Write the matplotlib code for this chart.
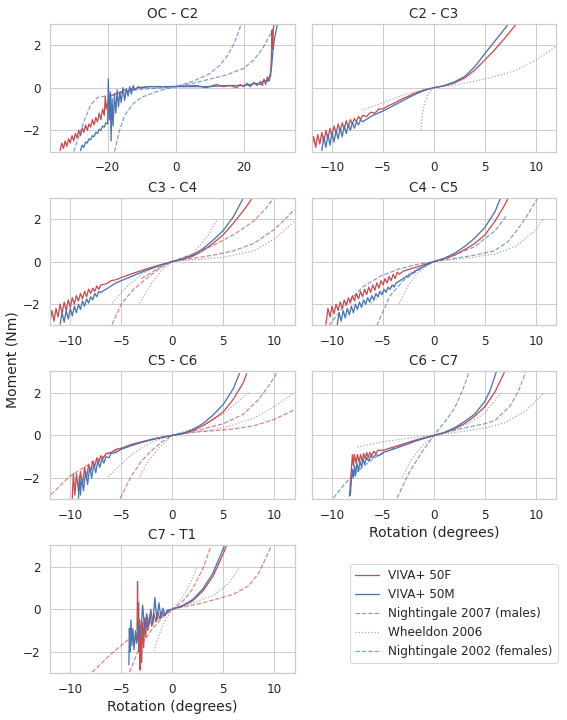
import numpy as np
import matplotlib
matplotlib.use("Agg")
import matplotlib.pyplot as plt
from matplotlib.lines import Line2D
import seaborn as sns

sns.set_theme(style="whitegrid")
plt.rcParams["font.family"] = ["DejaVu Sans"]

RED = "#c44e52"
BLUE = "#4c72b0"
GREY = "#8c8c8c"

titles = ["OC - C2", "C2 - C3", "C3 - C4", "C4 - C5", "C5 - C6", "C6 - C7", "C7 - T1"]
legend_labels = ["VIVA+ 50F", "VIVA+ 50M", "Nightingale 2007 (males)",
                 "Wheeldon 2006", "Nightingale 2002 (females)"]

# ---- OC - C2 ----
oc_f = [(-34, -2.95), (-33.5, -2.6), (-33, -2.85), (-32.5, -2.5), (-32, -2.75), (-31.5, -2.4),
        (-31, -2.6), (-30.5, -2.25), (-30, -2.5), (-29.5, -2.15), (-29, -2.35), (-28.5, -2.0),
        (-28, -2.25), (-27.5, -1.9), (-27, -2.1), (-26.5, -1.75), (-26, -2.0), (-25.5, -1.7),
        (-25, -1.85), (-24.5, -1.5), (-24, -1.75), (-23.5, -1.4), (-23, -1.6), (-22.5, -1.2),
        (-22, -1.5), (-21.5, -1.0), (-21, -1.3), (-20.7, -0.4), (-20.4, -1.0), (-20, -0.7),
        (-19.5, -0.5), (-19, -0.4), (-18, -0.3), (-17, -0.25), (-16, -0.2), (-15, -0.1),
        (-14, -0.15), (-13, -0.05), (-12, -0.1), (-11, 0.05), (-10, -0.02), (-8, 0.05),
        (-5, 0.05), (-2, 0.05), (0, 0.06), (3, 0.08), (6, 0.1), (9, 0.0), (12, 0.15),
        (14, 0.05), (16, 0.1), (18, 0.0), (19, 0.15), (20, 0.05), (21, 0.2), (22, 0.05),
        (23, 0.25), (24, 0.1), (25, 0.3), (25.5, 0.1), (26, 0.4), (26.5, 0.15), (27, 0.5),
        (27.5, 0.3), (28, 0.6), (28.2, 1.5), (28.4, 2.7), (28.6, 1.8), (28.8, 2.8), (29, 3.1)]
oc_m = [(-28, -2.95), (-27.5, -2.7), (-27, -2.8), (-26.5, -2.55), (-26, -2.6), (-25.5, -2.4),
        (-25, -2.45), (-24.5, -2.25), (-24, -2.3), (-23.5, -2.1), (-23, -2.15), (-22.5, -1.95),
        (-22, -2.0), (-21.5, -1.8), (-21, -1.85), (-20.5, -1.65), (-20, -1.7), (-19.8, 0.4),
        (-19.5, -1.5), (-19.2, -0.2), (-19, -2.5), (-18.7, -0.5), (-18.4, -1.8), (-18, -0.3),
        (-17.6, -1.2), (-17.2, -0.1), (-16.8, -0.9), (-16.4, -0.2), (-16, -0.7), (-15.5, 0.0),
        (-15, -0.6), (-14.5, -0.05), (-14, -0.4), (-13.5, 0.05), (-13, -0.3), (-12.5, 0.1),
        (-12, -0.1), (-11, 0.0), (-8, 0.05), (0, 0.05), (10, 0.05), (15, 0.1), (20, 0.1),
        (22, 0.15), (24, 0.2), (25, 0.15), (26, 0.35), (27, 0.3), (27.8, 0.6), (28.2, 0.9),
        (28.6, 1.6), (29, 2.2), (29.5, 2.6), (30, 3.0), (30.2, 3.1)]
oc_n07 = [[(-30, -3.0), (-27, -1.6), (-25, -0.8), (-23, -0.47), (-18, -0.3), (-12, -0.1),
           (-6, -0.03), (0, 0.05), (5, 0.3), (10, 0.65), (13, 1.05), (15, 1.45), (17, 2.0),
           (18.5, 2.6), (19.3, 3.0)],
          [(-18, -3.0), (-16.5, -2.0), (-15, -1.3), (-12.5, -0.75), (-10, -0.45), (-5, -0.15),
           (0, 0.05), (5, 0.2), (10, 0.4), (15, 0.6), (20, 0.9), (23, 1.3), (25.5, 1.8),
           (27.5, 2.4), (29.5, 3.0)]]

# ---- C2 - C3 ----
c23_f = [(-12, -2.9), (-11.8, -2.3), (-11.6, -2.8), (-11.4, -2.2), (-11.2, -2.65), (-11, -2.1),
         (-10.8, -2.55), (-10.6, -2.0), (-10.4, -2.4), (-10.2, -1.9), (-10, -2.3), (-9.8, -1.8),
         (-9.6, -2.15), (-9.4, -1.7), (-9.2, -2.05), (-9, -1.65), (-8.8, -1.95), (-8.6, -1.55),
         (-8.4, -1.85), (-8.2, -1.5), (-8, -1.7), (-7.8, -1.45), (-7.6, -1.6), (-7.4, -1.35),
         (-7.2, -1.5), (-7, -1.3), (-6.6, -1.35), (-6.2, -1.15), (-5.8, -1.2), (-5.4, -1.0),
         (-5, -1.0), (-4.5, -0.85), (-4, -0.75), (-3.5, -0.62), (-3, -0.5), (-2.5, -0.4),
         (-2, -0.28), (-1.5, -0.2), (-1, -0.12), (-0.5, -0.06), (0, 0), (1, 0.08), (2, 0.22),
         (3, 0.45), (4, 0.82), (5, 1.3), (6, 1.8), (7, 2.35), (8.1, 3.0)]
c23_m = [(-11, -2.95), (-10.8, -2.3), (-10.6, -2.8), (-10.4, -2.2), (-10.2, -2.7), (-10, -2.1),
         (-9.8, -2.55), (-9.6, -2.0), (-9.4, -2.4), (-9.2, -1.9), (-9, -2.3), (-8.8, -1.8),
         (-8.6, -2.15), (-8.4, -1.75), (-8.2, -2.0), (-8, -1.65), (-7.8, -1.9), (-7.6, -1.6),
         (-7.4, -1.75), (-7.2, -1.5), (-7, -1.6), (-6.5, -1.45), (-6, -1.3), (-5.5, -1.2),
         (-5, -1.1), (-4.5, -0.97), (-4, -0.85), (-3.5, -0.72), (-3, -0.6), (-2.5, -0.47),
         (-2, -0.35), (-1.5, -0.24), (-1, -0.14), (-0.5, -0.06), (0, 0), (1, 0.1), (2, 0.27),
         (3, 0.52), (4, 0.98), (5, 1.6), (6, 2.2), (7, 2.8), (7.3, 3.0)]
c23_w06 = [[(-7, -1.05), (-5, -0.7), (-3, -0.35), (-1, -0.08), (0, 0), (2, 0.12), (4, 0.3),
            (6, 0.52), (8, 0.8), (10, 1.3), (12, 1.95)],
           [(-1.3, -2.0), (-1.15, -1.3), (-0.9, -0.7), (-0.5, -0.25), (0, 0)]]

# ---- C3 - C4 ----
c34_f = [(-12, -2.85), (-11.8, -2.3), (-11.6, -2.8), (-11.4, -2.2), (-11.2, -2.6), (-11, -2.0),
         (-10.8, -2.45), (-10.6, -1.9), (-10.4, -2.3), (-10.2, -1.8), (-10, -2.15), (-9.8, -1.7),
         (-9.6, -2.0), (-9.4, -1.6), (-9.2, -1.85), (-9, -1.5), (-8.8, -1.75), (-8.6, -1.4),
         (-8.4, -1.65), (-8.2, -1.3), (-8, -1.5), (-7.8, -1.25), (-7.6, -1.4), (-7.4, -1.15),
         (-7.2, -1.3), (-7, -1.1), (-6.5, -1.05), (-6, -0.9), (-5.5, -0.85), (-5, -0.75),
         (-4, -0.58), (-3, -0.42), (-2, -0.27), (-1, -0.13), (0, 0), (1, 0.1), (2, 0.25),
         (3, 0.5), (4, 0.85), (5, 1.25), (6, 1.8), (7, 2.4), (7.9, 3.0)]
c34_m = [(-11, -2.95), (-10.8, -2.4), (-10.6, -2.85), (-10.4, -2.3), (-10.2, -2.7), (-10, -2.2),
         (-9.8, -2.55), (-9.6, -2.1), (-9.4, -2.4), (-9.2, -2.0), (-9, -2.25), (-8.8, -1.85),
         (-8.6, -2.1), (-8.4, -1.75), (-8.2, -1.95), (-8, -1.65), (-7.8, -1.8), (-7.6, -1.5),
         (-7.4, -1.65), (-7.2, -1.4), (-7, -1.45), (-6.5, -1.3), (-6, -1.15), (-5.5, -1.0),
         (-5, -0.9), (-4, -0.7), (-3, -0.5), (-2, -0.32), (-1, -0.15), (0, 0), (1, 0.12),
         (2, 0.3), (3, 0.6), (4, 1.0), (5, 1.45), (6, 2.1), (7, 3.0)]
c34_n02 = [[(-5.9, -2.95), (-5, -2.0), (-3.8, -1.3), (-2.2, -0.67), (-1, -0.25), (0, 0),
            (2, 0.35), (4, 0.75), (6, 1.25), (8, 1.9), (9.2, 2.5), (10, 3.0)],
           [(-3, -0.8), (-2, -0.5), (-1, -0.2), (0, 0), (2, 0.15), (4, 0.3), (6, 0.5),
            (8, 0.85), (10, 1.5), (11, 1.95), (12, 2.45)]]
c34_w06 = [[(-5.9, -1.95), (-4.5, -1.2), (-3, -0.6), (-1.5, -0.2), (0, 0), (2, 0.35),
            (3.5, 1.2), (4.4, 1.96)],
           [(-3.2, -1.96), (-2, -1.0), (-1, -0.4), (0, 0), (3, 0.12), (5, 0.2), (8, 0.5),
            (10, 1.05), (12, 1.9)]]

# ---- C4 - C5 ----
c45_f = [(-10.6, -2.95), (-10.4, -2.2), (-10.2, -2.6), (-10, -2.1), (-9.8, -2.45), (-9.6, -2.0),
         (-9.4, -2.3), (-9.2, -1.9), (-9, -2.2), (-8.8, -1.8), (-8.6, -2.05), (-8.4, -1.7),
         (-8.2, -1.95), (-8, -1.6), (-7.8, -1.85), (-7.6, -1.5), (-7.4, -1.75), (-7.2, -1.4),
         (-7, -1.65), (-6.8, -1.3), (-6.6, -1.55), (-6.4, -1.2), (-6.2, -1.45), (-6, -1.1),
         (-5.8, -1.35), (-5.6, -1.0), (-5.4, -1.25), (-5.2, -0.9), (-5, -1.1), (-4.8, -0.8),
         (-4.6, -1.0), (-4.4, -0.7), (-4.2, -0.9), (-4, -0.6), (-3.8, -0.8), (-3.6, -0.5),
         (-3.4, -0.6), (-3, -0.45), (-2, -0.3), (-1, -0.15), (0, 0), (1, 0.12), (2, 0.3),
         (3, 0.55), (4, 0.85), (5, 1.25), (6, 1.9), (7, 2.7), (7.3, 3.0)]
c45_m = [(-9.5, -3.0), (-9.3, -2.4), (-9.1, -2.8), (-8.9, -2.3), (-8.7, -2.65), (-8.5, -2.2),
         (-8.3, -2.5), (-8.1, -2.1), (-7.9, -2.4), (-7.7, -2.0), (-7.5, -2.25), (-7.3, -1.9),
         (-7.1, -2.15), (-6.9, -1.8), (-6.7, -2.0), (-6.5, -1.7), (-6.3, -1.9), (-6.1, -1.6),
         (-5.9, -1.8), (-5.7, -1.5), (-5.5, -1.65), (-5.3, -1.4), (-5.1, -1.55), (-4.9, -1.3),
         (-4.7, -1.45), (-4.5, -1.2), (-4.3, -1.3), (-4.1, -1.1), (-3.9, -1.2), (-3.7, -1.0),
         (-3.5, -0.95), (-3, -0.8), (-2, -0.5), (-1, -0.22), (0, 0), (1, 0.15), (2, 0.38),
         (3, 0.7), (4, 1.1), (5, 1.6), (6, 2.35), (6.5, 2.95)]
c45_n07 = [[(-10.3, -3.0), (-9, -2.2), (-7, -1.2), (-5.2, -0.67), (-3.3, -0.33), (-1.5, -0.12),
            (0, 0), (2, 0.15), (4, 0.3), (5.9, 0.5), (7.2, 0.9), (8.2, 1.5), (9.2, 2.2),
            (10.2, 3.0)],
           [(-5.6, -3.0), (-4.3, -1.6), (-3, -0.9), (-2, -0.55), (-1, -0.25), (0, 0),
            (2, 0.3), (4, 0.7), (6, 1.45), (7.2, 2.2)]]
c45_w06 = [[(-6.2, -1.96), (-4.5, -1.3), (-3, -0.75), (-1.5, -0.3), (0, 0), (3, 0.15),
            (6, 0.35), (8, 0.7), (10, 1.5), (10.7, 1.98)],
           [(-3.4, -1.96), (-2.5, -1.1), (-1.5, -0.5), (-0.7, -0.2), (0, 0)]]

# ---- C5 - C6 ----
c56_f = [(-9.8, -2.95), (-9.7, -1.8), (-9.55, -2.8), (-9.4, -1.8), (-9.2, -2.6), (-9.0, -1.7),
         (-8.8, -2.3), (-8.6, -1.5), (-8.4, -2.0), (-8.2, -1.35), (-8.0, -1.7), (-7.8, -1.2),
         (-7.6, -1.45), (-7.4, -1.05), (-7.2, -1.25), (-7.0, -0.95), (-6.8, -1.1), (-6.5, -0.85),
         (-6, -0.8), (-5.5, -0.65), (-5, -0.6), (-4, -0.42), (-3, -0.3), (-2, -0.18),
         (-1, -0.08), (0, 0), (1, 0.08), (2, 0.22), (3, 0.45), (4, 0.75), (5, 1.1), (6, 1.7),
         (7, 2.5), (7.3, 2.9)]
c56_m = [(-9.2, -2.95), (-9.1, -1.9), (-9.0, -2.8), (-8.9, -2.0), (-8.7, -2.6), (-8.5, -1.7),
         (-8.3, -2.3), (-8.1, -1.5), (-7.9, -2.0), (-7.7, -1.35), (-7.5, -1.75), (-7.3, -1.2),
         (-7.1, -1.5), (-6.9, -1.1), (-6.7, -1.3), (-6.5, -1.0), (-6.2, -1.05), (-6, -0.85),
         (-5.5, -0.8), (-5, -0.65), (-4, -0.48), (-3, -0.33), (-2, -0.2), (-1, -0.1), (0, 0),
         (1, 0.1), (2, 0.27), (3, 0.55), (4, 0.95), (5, 1.45), (6, 2.2), (6.6, 2.9)]
c56_n02 = [[(-11.9, -2.78), (-10, -1.9), (-8, -1.3), (-6, -0.8), (-4, -0.45), (-2, -0.18),
            (0, 0), (3, 0.3), (5, 0.55), (7, 1.0), (8.5, 1.7), (9.5, 2.35), (10.3, 2.95)],
           [(-5.1, -2.95), (-4, -1.9), (-3, -1.2), (-2, -0.7), (-1, -0.3), (0, 0),
            (2, 0.15), (4, 0.22), (6, 0.3), (8, 0.45), (10, 0.75), (12, 1.2)]]
c56_w06 = [[(-6.3, -1.95), (-5, -1.35), (-4, -0.9), (-2, -0.3), (0, 0), (3, 0.45),
            (5, 1.0), (6.5, 1.6), (7.5, 2.0)],
           [(-3.2, -1.95), (-2.5, -1.3), (-1.5, -0.7), (-0.7, -0.3), (0, 0), (3, 0.2),
            (5, 0.35), (8, 0.8), (10, 1.35), (12, 2.0)]]

# ---- C6 - C7 ----
c67_f = [(-8.3, -2.85), (-8.2, -2.3), (-8.1, -1.6), (-8.0, -0.9), (-7.9, -1.4), (-7.8, -0.9),
         (-7.65, -1.3), (-7.5, -0.9), (-7.35, -1.25), (-7.2, -0.9), (-7.05, -1.2), (-6.9, -0.85),
         (-6.75, -1.1), (-6.6, -0.8), (-6.45, -1.05), (-6.3, -0.8), (-6.1, -0.95), (-5.9, -0.75),
         (-5.7, -0.85), (-5.5, -0.7), (-5, -0.7), (-4, -0.55), (-3, -0.4), (-2, -0.25),
         (-1, -0.12), (0, 0), (1, 0.12), (2, 0.3), (3, 0.55), (4, 0.9), (5, 1.35), (6, 2.05),
         (6.9, 2.95)]
c67_m = [(-8.2, -2.8), (-8.1, -2.1), (-8.0, -1.6), (-7.9, -2.0), (-7.8, -1.4), (-7.7, -1.9),
         (-7.55, -1.3), (-7.4, -1.7), (-7.25, -1.2), (-7.1, -1.5), (-6.95, -1.1), (-6.8, -1.35),
         (-6.6, -1.05), (-6.4, -1.2), (-6.2, -0.95), (-6.0, -1.05), (-5.7, -0.9), (-5.4, -0.95),
         (-5, -0.8), (-4, -0.65), (-3, -0.48), (-2, -0.3), (-1, -0.15), (0, 0), (1, 0.14),
         (2, 0.35), (3, 0.65), (4, 1.0), (5, 1.6), (5.5, 2.1), (6.1, 2.95)]
c67_n07 = [[(-9.85, -2.93), (-8.8, -2.3), (-7.9, -1.84), (-6, -1.1), (-4, -0.6), (-2, -0.25),
            (0, 0), (3, 0.35), (5, 0.55), (6, 0.7), (7.5, 1.4), (8.3, 2.1), (9, 2.95)],
           [(-3.6, -2.93), (-2.5, -1.8), (-1.2, -0.8), (0, 0), (1, 0.6), (2, 1.25),
            (2.8, 2.1), (3.44, 2.95)]]
c67_w06 = [[(-7.5, -0.55), (-5, -0.3), (-2, -0.1), (0, 0), (2, 0.25), (3.5, 0.6), (5, 1.05),
            (6.6, 2.0)],
           [(-3.1, -1.95), (-2.3, -1.2), (-1.5, -0.7), (-0.7, -0.3), (0, 0), (3, 0.2),
            (5, 0.35), (7, 0.6), (9, 1.15), (10.7, 1.95)]]

# ---- C7 - T1 ----
c7t1_f = [(-3.45, -1.0), (-3.4, 1.3), (-3.35, -1.5), (-3.3, 0.3), (-3.25, -2.0), (-3.2, -0.5),
          (-3.15, -2.85), (-3.1, -0.8), (-3.0, -2.5), (-2.9, -0.6), (-2.8, -1.8), (-2.7, -0.4),
          (-2.6, -1.3), (-2.5, -0.3), (-2.4, -1.0), (-2.2, -0.25), (-2.0, -0.8), (-1.8, -0.2),
          (-1.6, -0.6), (-1.4, -0.15), (-1.2, -0.45), (-1.0, -0.1), (-0.8, -0.3), (-0.5, -0.1),
          (0, 0), (1, 0.15), (2, 0.4), (3, 0.85), (4, 1.55), (5, 2.6), (5.3, 2.95)]
c7t1_m = [(-4.25, -2.6), (-4.2, -0.9), (-4.15, -2.0), (-4.05, -0.5), (-3.95, -1.7), (-3.85, -0.9),
          (-3.75, -1.9), (-3.6, -1.0), (-3.5, -1.6), (-3.3, -0.6), (-3.1, -1.3), (-2.9, 0.2),
          (-2.7, -1.0), (-2.5, -0.2), (-2.3, -0.8), (-2.1, 0.0), (-1.9, -0.7), (-1.7, 0.55),
          (-1.5, -0.5), (-1.3, 0.3), (-1.1, -0.4), (-0.9, 0.05), (-0.7, -0.3), (-0.5, -0.05),
          (0, 0), (1, 0.17), (2, 0.45), (3, 0.95), (4, 1.7), (5.1, 2.95)]
c7t1_n02 = [[(-7.85, -2.95), (-6, -2.1), (-4, -1.3), (-2, -0.6), (0, 0), (3, 0.3), (6, 0.7),
             (7.5, 1.1), (8.5, 1.7), (9.7, 2.95)],
            [(-4.2, -2.95), (-3.2, -1.8), (-2, -0.95), (-1, -0.4), (0, 0), (1, 0.35),
             (2, 0.95), (3, 1.9), (3.8, 2.95)]]
c7t1_w06 = [[(-1.8, -1.95), (-1.2, -1.1), (-0.6, -0.45), (0, 0), (1, 0.55), (1.8, 1.25),
             (2.4, 1.95)],
            [(0, 0), (2, 0.3), (4, 0.65), (5.5, 1.2), (6.6, 1.95)]]

segments = [
    dict(f=oc_f, m=oc_m, n07=oc_n07, w06=[], n02=[]),
    dict(f=c23_f, m=c23_m, n07=[], w06=c23_w06, n02=[]),
    dict(f=c34_f, m=c34_m, n07=[], w06=c34_w06, n02=c34_n02),
    dict(f=c45_f, m=c45_m, n07=c45_n07, w06=c45_w06, n02=[]),
    dict(f=c56_f, m=c56_m, n07=[], w06=c56_w06, n02=c56_n02),
    dict(f=c67_f, m=c67_m, n07=c67_n07, w06=c67_w06, n02=[]),
    dict(f=c7t1_f, m=c7t1_m, n07=[], w06=c7t1_w06, n02=c7t1_n02),
]


def xy(pts):
    a = np.array(pts, dtype=float)
    return a[:, 0], a[:, 1]


fig, axes = plt.subplots(4, 2, figsize=(567 / 72, 720 / 72), dpi=72, sharey=True)
fig.subplots_adjust(left=0.088, right=0.981, top=0.967, bottom=0.065,
                    wspace=0.07, hspace=0.36)
axs = axes.flatten()

for i, seg in enumerate(segments):
    ax = axs[i]
    for c in seg["n07"]:
        ax.plot(*xy(c), ls="--", color=BLUE, alpha=0.7, lw=1.2)
    for c in seg["w06"]:
        ax.plot(*xy(c), ls=":", color=GREY, alpha=0.8, lw=1.2)
    for c in seg["n02"]:
        ax.plot(*xy(c), ls="--", color=RED, alpha=0.7, lw=1.2)
    ax.plot(*xy(seg["f"]), color=RED, lw=1.3)
    ax.plot(*xy(seg["m"]), color=BLUE, lw=1.3)
    ax.set_title(titles[i], fontsize=13.5)
    ax.set_ylim(-3, 3)
    ax.set_yticks([-2, 0, 2])
    if i == 0:
        ax.set_xlim(-37, 35)
        ax.set_xticks([-20, 0, 20])
    else:
        ax.set_xlim(-12, 12)
        ax.set_xticks([-10, -5, 0, 5, 10])
    ax.tick_params(labelsize=12, labelleft=(i % 2 == 0))

axs[5].set_xlabel("Rotation (degrees)", fontsize=14)
axs[6].set_xlabel("Rotation (degrees)", fontsize=14)
fig.text(0.022, 0.5, "Moment (Nm)", rotation=90, va="center", ha="center", fontsize=14)

axs[7].axis("off")
handles = [Line2D([], [], color=RED, lw=1.3),
           Line2D([], [], color=BLUE, lw=1.3),
           Line2D([], [], color=BLUE, ls="--", alpha=0.7, lw=1.2),
           Line2D([], [], color=GREY, ls=":", alpha=0.8, lw=1.2),
           Line2D([], [], color=RED, ls="--", alpha=0.7, lw=1.2)]
axs[7].legend(handles, legend_labels, loc="upper right", bbox_to_anchor=(1.03, 0.9),
              fontsize=12, frameon=True)

fig.savefig("out.png", dpi=72)
